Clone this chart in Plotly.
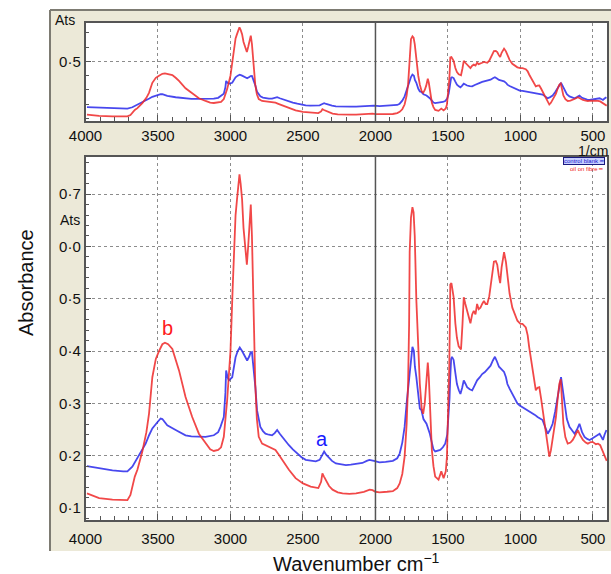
import plotly.graph_objects as go

# ---------------- data ----------------
red_wn = [3990, 3906, 3814, 3711, 3690, 3660, 3642, 3608, 3580, 3562, 3539, 3515, 3493, 3470, 3452, 3430, 3401,
          3378, 3355, 3310, 3264, 3218, 3172, 3140, 3115, 3085, 3065, 3046, 3023, 3000, 2985, 2977, 2965, 2955,
          2947, 2938, 2930, 2920, 2910, 2898, 2887, 2878, 2868, 2860, 2852, 2845, 2840, 2829, 2818, 2805, 2782,
          2760, 2736, 2710, 2690, 2670, 2644, 2620, 2597, 2551, 2500, 2447, 2394, 2375, 2366, 2355, 2343, 2320,
          2296, 2260, 2227, 2180, 2134, 2080, 2040, 2020, 2000, 1972, 1920, 1880, 1850, 1833, 1815, 1799, 1785,
          1775, 1768, 1764, 1755, 1745, 1737, 1729, 1718, 1705, 1694, 1681, 1671, 1660, 1650, 1639, 1632, 1623,
          1611, 1600, 1588, 1565, 1546, 1530, 1515, 1507, 1497, 1491, 1486, 1484, 1476, 1472, 1461, 1449, 1438,
          1426, 1410, 1400, 1391, 1380, 1368, 1355, 1345, 1333, 1322, 1310, 1299, 1288, 1276, 1264, 1252, 1240,
          1229, 1215, 1206, 1195, 1183, 1170, 1160, 1150, 1140, 1130, 1113, 1100, 1090, 1075, 1056, 1040, 1021,
          1000, 986, 963, 950, 940, 917, 905, 894, 882, 870, 858, 847, 835, 824, 812, 801, 790, 778, 765, 755,
          743, 732, 722, 712, 704, 690, 674, 655, 639, 620, 604, 590, 569, 550, 535, 515, 500, 480, 465, 450,
          435, 420, 405]
red_abs = [0.128, 0.119, 0.116, 0.115, 0.125, 0.160, 0.173, 0.208, 0.245, 0.280, 0.350, 0.385, 0.400, 0.413,
           0.416, 0.413, 0.404, 0.385, 0.363, 0.312, 0.274, 0.242, 0.223, 0.212, 0.209, 0.211, 0.216, 0.236,
           0.306, 0.400, 0.520, 0.590, 0.660, 0.690, 0.710, 0.738, 0.720, 0.690, 0.635, 0.600, 0.565, 0.600,
           0.660, 0.680, 0.620, 0.520, 0.476, 0.337, 0.270, 0.236, 0.223, 0.220, 0.217, 0.214, 0.211, 0.203,
           0.192, 0.182, 0.173, 0.157, 0.147, 0.141, 0.138, 0.150, 0.166, 0.160, 0.154, 0.142, 0.135, 0.130,
           0.128, 0.127, 0.128, 0.131, 0.135, 0.134, 0.131, 0.130, 0.131, 0.132, 0.138, 0.147, 0.165, 0.198,
           0.260, 0.337, 0.450, 0.590, 0.655, 0.675, 0.665, 0.620, 0.497, 0.400, 0.337, 0.290, 0.280, 0.300,
           0.330, 0.378, 0.350, 0.274, 0.211, 0.180, 0.160, 0.154, 0.170, 0.157, 0.170, 0.198, 0.280, 0.370,
           0.470, 0.527, 0.530, 0.520, 0.503, 0.453, 0.425, 0.409, 0.403, 0.450, 0.503, 0.490, 0.477, 0.460,
           0.453, 0.470, 0.477, 0.470, 0.490, 0.480, 0.483, 0.490, 0.496, 0.490, 0.490, 0.505, 0.527, 0.550,
           0.571, 0.572, 0.565, 0.545, 0.530, 0.560, 0.589, 0.570, 0.540, 0.510, 0.483, 0.470, 0.458, 0.452,
           0.452, 0.445, 0.430, 0.408, 0.364, 0.340, 0.325, 0.330, 0.331, 0.310, 0.287, 0.260, 0.236, 0.215,
           0.198, 0.210, 0.230, 0.250, 0.274, 0.310, 0.337, 0.346, 0.300, 0.261, 0.235, 0.223, 0.225, 0.230,
           0.240, 0.249, 0.240, 0.230, 0.225, 0.223, 0.226, 0.226, 0.222, 0.223, 0.220, 0.211, 0.200, 0.190]

blue_wn = [3990, 3906, 3814, 3740, 3711, 3677, 3631, 3585, 3560, 3539, 3510, 3482, 3470, 3436, 3378, 3310, 3270,
           3241, 3172, 3115, 3085, 3069, 3046, 3035, 3030, 3020, 3011, 2988, 2975, 2965, 2950, 2936, 2920, 2908,
           2895, 2885, 2870, 2862, 2852, 2845, 2840, 2828, 2817, 2805, 2794, 2776, 2759, 2735, 2713, 2695, 2678,
           2660, 2644, 2620, 2597, 2570, 2539, 2510, 2481, 2450, 2412, 2385, 2370, 2354, 2340, 2320, 2300, 2273,
           2240, 2204, 2170, 2134, 2090, 2060, 2042, 2010, 1972, 1930, 1880, 1850, 1833, 1815, 1799, 1785, 1768,
           1755, 1745, 1735, 1728, 1718, 1705, 1694, 1683, 1669, 1648, 1634, 1625, 1611, 1600, 1588, 1570, 1553,
           1535, 1519, 1505, 1495, 1489, 1484, 1478, 1472, 1461, 1450, 1438, 1425, 1414, 1402, 1391, 1380, 1368,
           1350, 1333, 1315, 1299, 1280, 1264, 1245, 1229, 1215, 1206, 1190, 1176, 1162, 1148, 1130, 1113, 1100,
           1090, 1075, 1056, 1040, 1021, 1005, 986, 970, 951, 935, 917, 900, 882, 865, 847, 830, 812, 795, 778,
           760, 743, 730, 720, 710, 697, 680, 662, 645, 627, 610, 593, 575, 558, 540, 523, 505, 488, 470, 454,
           440, 431, 420, 407]
blue_abs = [0.180, 0.176, 0.172, 0.170, 0.170, 0.179, 0.201, 0.223, 0.240, 0.252, 0.262, 0.271, 0.270, 0.258,
            0.249, 0.239, 0.237, 0.237, 0.236, 0.239, 0.245, 0.255, 0.274, 0.320, 0.363, 0.350, 0.344, 0.350,
            0.370, 0.388, 0.400, 0.407, 0.400, 0.394, 0.388, 0.382, 0.390, 0.397, 0.398, 0.380, 0.370, 0.330,
            0.287, 0.270, 0.255, 0.247, 0.242, 0.240, 0.239, 0.243, 0.249, 0.242, 0.236, 0.228, 0.220, 0.212,
            0.204, 0.197, 0.192, 0.190, 0.189, 0.192, 0.200, 0.208, 0.202, 0.195, 0.190, 0.185, 0.183, 0.182,
            0.183, 0.184, 0.186, 0.190, 0.192, 0.190, 0.187, 0.188, 0.190, 0.195, 0.204, 0.225, 0.255, 0.300,
            0.350, 0.390, 0.408, 0.400, 0.370, 0.350, 0.310, 0.290, 0.287, 0.270, 0.261, 0.250, 0.242, 0.225,
            0.212, 0.208, 0.210, 0.211, 0.216, 0.223, 0.240, 0.274, 0.310, 0.350, 0.385, 0.389, 0.383, 0.360,
            0.337, 0.325, 0.318, 0.330, 0.344, 0.338, 0.331, 0.327, 0.325, 0.335, 0.344, 0.350, 0.356, 0.360,
            0.365, 0.368, 0.372, 0.382, 0.389, 0.380, 0.370, 0.365, 0.360, 0.350, 0.337, 0.328, 0.318, 0.310,
            0.300, 0.296, 0.293, 0.290, 0.287, 0.284, 0.281, 0.278, 0.274, 0.271, 0.268, 0.255, 0.242, 0.250,
            0.261, 0.285, 0.312, 0.335, 0.350, 0.330, 0.300, 0.270, 0.255, 0.248, 0.242, 0.250, 0.261, 0.245,
            0.236, 0.232, 0.230, 0.233, 0.236, 0.240, 0.242, 0.235, 0.230, 0.240, 0.249]

x_tickvals = [4000, 3500, 3000, 2500, 2000, 1500, 1000, 500]
x_ticktext = ["4000", "3500", "3000", "2500", "2000", "1500", "1000", "500"]
y_tickvals = [0.1, 0.2, 0.3, 0.4, 0.5, 0.6, 0.7]
y_ticktext = ["0·1", "0·2", "0·3", "0·4", "0·5", "0·0", "0·7"]
top_y_tickvals = [0.5]
top_y_ticktext = ["0·5"]
series_names = ["control blank", "oil on fibre"]
peak_labels = ["a", "b"]
peak_wn = [2366, 3434]
peak_abs = [0.232, 0.444]

# ---------------- layout helpers ----------------
FW, FH = 611, 574
FONT = "Arial, 'Liberation Sans', Helvetica, sans-serif"
RED = "rgba(238,40,40,0.85)"
BLUE = "rgba(40,40,235,0.85)"
BEIGE = "#ece9d8"


def px(xp):
    """page pixel x -> paper fraction"""
    return xp / FW


def py(yp):
    """page pixel y -> paper fraction"""
    return 1 - yp / FH


x_dom = [px(85.5), px(607)]
bot_dom = [py(520), py(157)]
top_dom = [py(121), py(23)]
x_range = [4000, 403]

fig = go.Figure()
for xa, ya in (("x", "y"), ("x2", "y2")):
    fig.add_trace(go.Scatter(x=blue_wn, y=blue_abs, mode="lines", name=series_names[0],
                             line=dict(color=BLUE, width=1.8), xaxis=xa, yaxis=ya, showlegend=False))
    fig.add_trace(go.Scatter(x=red_wn, y=red_abs, mode="lines", name=series_names[1],
                             line=dict(color=RED, width=1.8), xaxis=xa, yaxis=ya, showlegend=False))

tickfont = dict(family=FONT, size=15, color="#111")
common_x = dict(domain=x_dom, range=x_range, tickmode="array", tickvals=x_tickvals, ticktext=x_ticktext,
                showgrid=True, gridcolor="#8c8c8c", griddash="dot", gridwidth=1,
                ticks="inside", ticklen=6, tickcolor="#555",
                minor=dict(tickmode="linear", tick0=0, dtick=100, ticks="inside", ticklen=4,
                           tickcolor="#555", showgrid=False),
                showline=True, mirror=True, linecolor="#555", linewidth=1.5, zeroline=False,
                automargin=False, tickfont=tickfont)

fig.update_layout(
    width=FW, height=FH, margin=dict(l=0, r=0, t=0, b=0, pad=0, autoexpand=False),
    paper_bgcolor=BEIGE, plot_bgcolor="white", showlegend=False,
    xaxis=dict(common_x, anchor="y", ticklabelstandoff=4),
    yaxis=dict(domain=bot_dom, range=[0.077, 0.771], tickmode="array", tickvals=y_tickvals,
               ticktext=y_ticktext, showgrid=True, gridcolor="#8c8c8c", griddash="dot", gridwidth=1,
               ticks="inside", ticklen=6, tickcolor="#555",
               minor=dict(tickmode="linear", tick0=0, dtick=0.02, ticks="inside", ticklen=4,
                          tickcolor="#555", showgrid=False),
               showline=True, mirror=True, linecolor="#555", linewidth=1.5, zeroline=False,
               automargin=False, tickfont=tickfont, anchor="x"),
    xaxis2=dict(common_x, anchor="y2"),
    yaxis2=dict(domain=top_dom, range=[0.083, 0.768], tickmode="array", tickvals=top_y_tickvals,
                ticktext=top_y_ticktext, showgrid=True, gridcolor="#8c8c8c", griddash="dot", gridwidth=1,
                ticks="inside", ticklen=6, tickcolor="#555",
                minor=dict(tickmode="linear", tick0=0, dtick=0.1, ticks="inside", ticklen=4,
                           tickcolor="#555", showgrid=False),
                showline=True, mirror=True, linecolor="#555", linewidth=1.5, zeroline=False,
                automargin=False, tickfont=tickfont, anchor="x2"),
)

shapes = [
    # white surround outside the beige panel
    dict(type="rect", xref="paper", yref="paper", x0=0, x1=px(50), y0=0, y1=1,
         fillcolor="white", line=dict(width=0), layer="below"),
    dict(type="rect", xref="paper", yref="paper", x0=0, x1=1, y0=py(10), y1=1,
         fillcolor="white", line=dict(width=0), layer="below"),
    dict(type="rect", xref="paper", yref="paper", x0=0, x1=1, y0=0, y1=py(551),
         fillcolor="white", line=dict(width=0), layer="below"),
    # panel border lines
    dict(type="line", xref="paper", yref="paper", x0=px(50), x1=px(50), y0=py(551), y1=py(10),
         line=dict(color="#7d7b72", width=2)),
    dict(type="line", xref="paper", yref="paper", x0=px(50), x1=1, y0=py(10), y1=py(10),
         line=dict(color="#7d7b72", width=2)),
    # solid 2000 cm-1 marker lines
    dict(type="line", xref="x", yref="y domain", x0=2000, x1=2000, y0=0, y1=1,
         line=dict(color="#555", width=1.5)),
    dict(type="line", xref="x2", yref="y2 domain", x0=2000, x1=2000, y0=0, y1=1,
         line=dict(color="#555", width=1.5)),
]
fig.update_layout(shapes=shapes)


def note(text, x, y, size, color="#111", xanchor="center", **kw):
    return dict(text=text, x=x, y=y, xref="paper", yref="paper", xanchor=xanchor, yanchor="middle",
                showarrow=False, font=dict(family=FONT, size=size, color=color), **kw)


ann = [
    note("Absorbance", px(26), py(283), 20, textangle=-90),
    note("Wavenumber cm<sup>−1</sup>", px(356), py(562), 20),
    note("Ats", px(53), py(20), 14, xanchor="left"),
    note("Ats", px(82), py(220), 14, xanchor="right"),
    note("1/cm", px(610), py(150.5), 14, xanchor="right"),
    dict(text=peak_labels[0], x=peak_wn[0], y=peak_abs[0], xref="x", yref="y", showarrow=False,
         xanchor="center", yanchor="middle", font=dict(family=FONT, size=20, color="#1a1aff")),
    dict(text=peak_labels[1], x=peak_wn[1], y=peak_abs[1], xref="x", yref="y", showarrow=False,
         xanchor="center", yanchor="middle", font=dict(family=FONT, size=20, color="#ff1a1a")),
    note(series_names[0] + " ━", px(605), py(161.5), 6, color="#1a1acc", xanchor="right",
         bgcolor="#c8d0ff", bordercolor="#1a1a80", borderwidth=1, borderpad=0),
    note(series_names[1] + " ━", px(605), py(168.5), 6, color="#ee2020", xanchor="right"),
]
fig.update_layout(annotations=ann)

fig.write_html("out.html", config={"displayModeBar": False},
               post_script="document.body.style.margin='0';document.body.style.overflow='hidden';")
